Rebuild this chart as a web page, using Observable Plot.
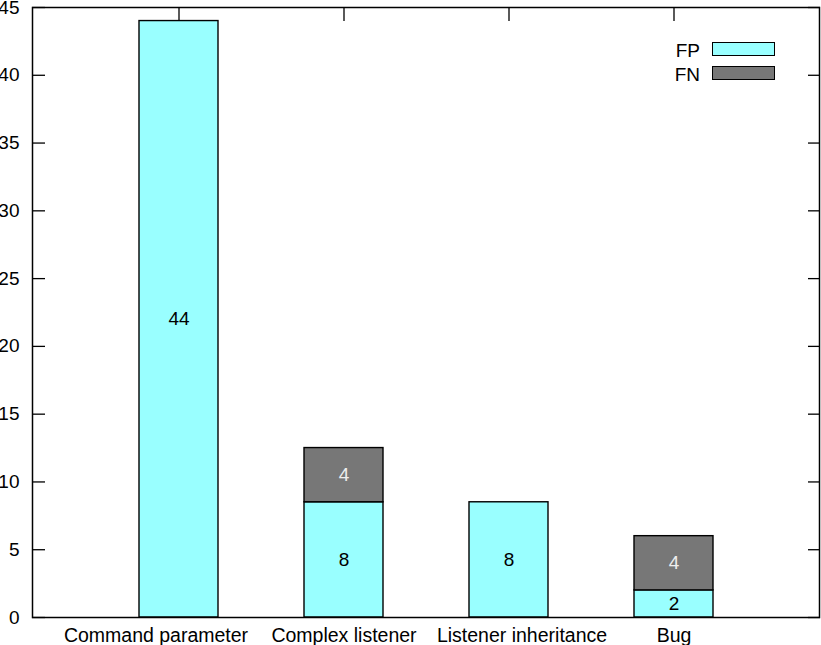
<!DOCTYPE html>
<html>
<head>
<meta charset="utf-8">
<script src="https://cdn.jsdelivr.net/npm/d3@7"></script>
<script src="https://cdn.jsdelivr.net/npm/@observablehq/plot@0.6"></script>
<style>
  html, body { margin: 0; padding: 0; background: #fff; }
  #wrap { position: relative; width: 821px; height: 645px; font-family: "Liberation Sans", Arial, sans-serif; }
  #wrap svg { overflow: visible; }
  .legend { position: absolute; left: 650px; top: 42px; font-size: 19px; }
  .legend .lab { position: absolute; width: 40px; text-align: right; line-height: 15px; }
  .legend .sw { position: absolute; width: 61px; height: 12px; border: 1.5px solid #000; }
</style>
</head>
<body>
<div id="wrap"></div>
<script>
const categories = ["Command parameter", "Complex listener", "Listener inheritance", "Bug"];
const seriesNames = ["FP", "FN"];
const seriesColors = ["#99ffff", "#777777"];
const fpValues = [44, 8.5, 8.5, 2];
const fnValues = [0, 4, 0, 4];
const fpLabels = ["44", "8", "8", "2"];
const fnLabels = ["", "4", "", "4"];
const yTicks = [0, 5, 10, 15, 20, 25, 30, 35, 40, 45];

// horizontal nudges of the category labels, as placed in the original
const labelShift = [-23, 0, 13, 0];

const rows = [];
categories.forEach((c, i) => {
  rows.push({cat: c, series: "FP", value: fpValues[i], label: fpLabels[i]});
  rows.push({cat: c, series: "FN", value: fnValues[i], label: fnLabels[i]});
});
const drawn = rows.filter(d => d.value > 0);
const blank = () => "";

const catLabels = categories.map((c, i) =>
  Plot.text([c], {x: d => d, text: d => d, frameAnchor: "bottom", lineAnchor: "top",
    dy: 11, dx: labelShift[i], fontSize: 19.5, fill: "#000"})
);

const chart = Plot.plot({
  width: 821,
  height: 645,
  marginLeft: 32,
  marginRight: 2,
  marginTop: 7,
  marginBottom: 28,
  style: {fontFamily: "'Liberation Sans', Arial, sans-serif", fontSize: "19px", color: "#000", background: "#fff"},
  x: {domain: categories, paddingInner: 0.5227, paddingOuter: 0.639, label: null, axis: null},
  y: {domain: [0, 45], label: null},
  color: {domain: seriesNames, range: seriesColors},
  marks: [
    Plot.axisX({anchor: "top", tickSize: -13, strokeWidth: 1.3, tickFormat: blank, label: null}),
    Plot.axisY({anchor: "left", ticks: yTicks, tickSize: -13, strokeWidth: 1.3, tickFormat: blank, label: null}),
    Plot.axisY({anchor: "right", ticks: yTicks, tickSize: -12, strokeWidth: 1.3, tickFormat: blank, label: null}),
    Plot.axisY({anchor: "left", ticks: yTicks, tickSize: 0, tickPadding: 13, fontSize: 19, label: null}),
    ...catLabels,
    Plot.barY(drawn, {x: "cat", y: "value", fill: "series", stroke: "#000", strokeWidth: 1.4, order: seriesNames}),
    Plot.text(drawn, Plot.stackY({x: "cat", y: "value", z: "series", order: seriesNames, text: "label",
      fill: d => d.series === "FN" ? "#eeeeee" : "#000", fontSize: 19})),
    Plot.frame({stroke: "#000", strokeWidth: 1.5})
  ]
});

const wrap = document.getElementById("wrap");
wrap.appendChild(chart);

const legend = document.createElement("div");
legend.className = "legend";
seriesNames.forEach((s, i) => {
  const top = i * 24;
  const lab = document.createElement("div");
  lab.className = "lab";
  lab.style.left = "10px";
  lab.style.top = (top + 1) + "px";
  lab.textContent = s;
  const sw = document.createElement("div");
  sw.className = "sw";
  sw.style.left = "62px";
  sw.style.top = top + "px";
  sw.style.background = seriesColors[i];
  legend.appendChild(lab);
  legend.appendChild(sw);
});
wrap.appendChild(legend);
</script>
</body>
</html>
